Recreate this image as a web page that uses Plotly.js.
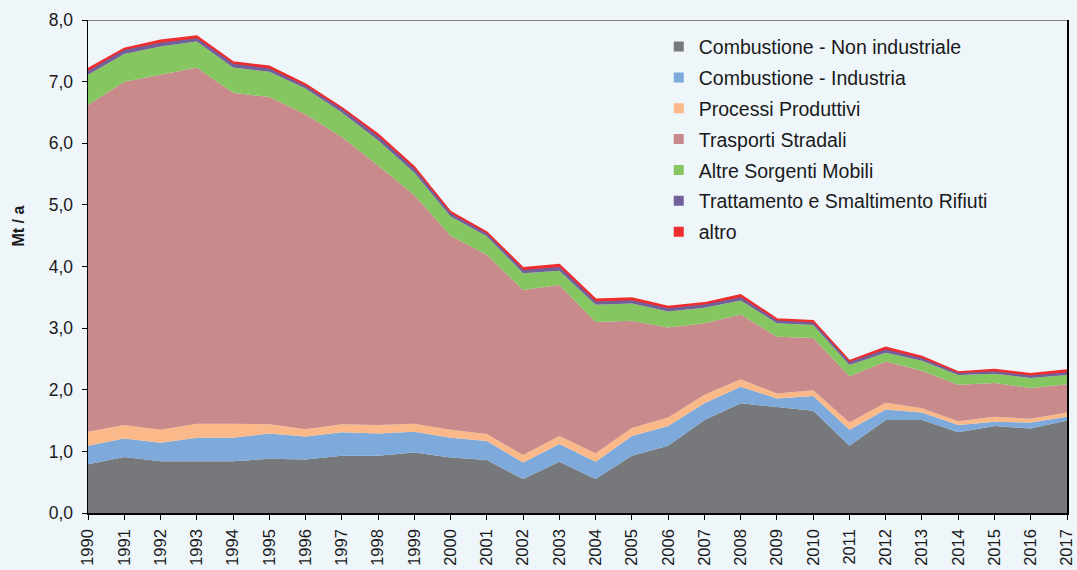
<!DOCTYPE html>
<html>
<head>
<meta charset="utf-8">
<script src="https://cdn.plot.ly/plotly-3.0.1.min.js"></script>
<style>
  html, body { margin: 0; padding: 0; background: #eef6fa; }
  #chart { width: 1077px; height: 570px; }
</style>
</head>
<body>
<div id="chart"></div>
<script>
// Emissioni per macrosettore, Mt / a
const years = [1990, 1991, 1992, 1993, 1994, 1995, 1996, 1997, 1998, 1999,
               2000, 2001, 2002, 2003, 2004, 2005, 2006, 2007, 2008, 2009,
               2010, 2011, 2012, 2013, 2014, 2015, 2016, 2017];

const combNonInd = [0.79, 0.91, 0.84, 0.84, 0.84, 0.88, 0.87, 0.93, 0.93, 0.98,
                    0.90, 0.86, 0.55, 0.83, 0.55, 0.93, 1.09, 1.51, 1.78, 1.72,
                    1.66, 1.09, 1.51, 1.51, 1.31, 1.41, 1.37, 1.50];
const combInd = [0.30, 0.30, 0.30, 0.38, 0.38, 0.41, 0.37, 0.38, 0.36, 0.34,
                 0.32, 0.31, 0.27, 0.29, 0.28, 0.32, 0.32, 0.27, 0.27, 0.14,
                 0.24, 0.26, 0.17, 0.12, 0.12, 0.07, 0.10, 0.06];
const processi = [0.23, 0.22, 0.21, 0.23, 0.23, 0.15, 0.12, 0.13, 0.14, 0.13,
                  0.13, 0.11, 0.12, 0.13, 0.14, 0.13, 0.14, 0.14, 0.12, 0.08,
                  0.09, 0.12, 0.11, 0.07, 0.06, 0.08, 0.06, 0.07];
const trasporti = [5.30, 5.57, 5.76, 5.78, 5.37, 5.31, 5.11, 4.66, 4.21, 3.71,
                   3.15, 2.91, 2.68, 2.45, 2.13, 1.74, 1.46, 1.16, 1.05, 0.92,
                   0.85, 0.75, 0.67, 0.61, 0.59, 0.55, 0.50, 0.46];
const altreMobili = [0.49, 0.45, 0.46, 0.42, 0.41, 0.41, 0.42, 0.40, 0.41, 0.36,
                     0.31, 0.30, 0.27, 0.23, 0.28, 0.28, 0.26, 0.25, 0.23, 0.22,
                     0.21, 0.18, 0.14, 0.16, 0.16, 0.15, 0.16, 0.15];
const rifiuti = [0.05, 0.05, 0.05, 0.04, 0.05, 0.04, 0.03, 0.04, 0.05, 0.05,
                 0.04, 0.03, 0.04, 0.05, 0.04, 0.04, 0.04, 0.04, 0.04, 0.03,
                 0.03, 0.04, 0.04, 0.03, 0.02, 0.03, 0.03, 0.03];
const altro = [0.05, 0.04, 0.05, 0.05, 0.04, 0.05, 0.04, 0.04, 0.05, 0.05,
               0.04, 0.04, 0.05, 0.05, 0.05, 0.05, 0.04, 0.04, 0.05, 0.04,
               0.04, 0.03, 0.05, 0.04, 0.03, 0.04, 0.04, 0.05];

const yTicks = [0, 1, 2, 3, 4, 5, 6, 7, 8];

const series = [
  { name: 'Combustione - Non industriale', y: combNonInd, color: '#76787b' },
  { name: 'Combustione - Industria', y: combInd, color: '#7daadb' },
  { name: 'Processi Produttivi', y: processi, color: '#fbb98a' },
  { name: 'Trasporti Stradali', y: trasporti, color: '#c88a8a' },
  { name: 'Altre Sorgenti Mobili', y: altreMobili, color: '#86c660' },
  { name: 'Trattamento e Smaltimento Rifiuti', y: rifiuti, color: '#72609a' },
  { name: 'altro', y: altro, color: '#ee2d2e' }
];

const traces = [];
series.forEach((s, i) => {
  const edge = i >= 5 ? 1.5 : 0;   // thin top bands drawn with a line too
  traces.push({
    x: years, y: s.y, name: s.name,
    type: 'scatter', mode: 'lines', stackgroup: 'one',
    line: { width: edge, color: s.color }, fillcolor: s.color,
    showlegend: false, hoverinfo: 'x+y+name'
  });
});
// legend entries with small square markers
series.forEach((s, i) => {
  traces.push({
    x: [null], y: [null], name: s.name,
    type: 'scatter', mode: 'markers', legendgroup: 'g' + i,
    marker: { symbol: 'square', size: 10, color: s.color }
  });
});

const layout = {
  width: 1077, height: 570,
  paper_bgcolor: '#eef6fa', plot_bgcolor: '#eef6fa',
  font: { family: 'Arial, sans-serif', color: '#1a1a1a', size: 17 },
  separators: ',.',
  margin: { l: 88, r: 10, t: 20, b: 57 },
  showlegend: true,
  legend: {
    x: 0.583, y: 0.985, xanchor: 'left', yanchor: 'top',
    bgcolor: 'rgba(0,0,0,0)', font: { size: 19.5 },
    tracegroupgap: 2.5, itemwidth: 30
  },
  xaxis: {
    range: [1990, 2017], tickmode: 'array', tickvals: years,
    ticktext: years.map(String), tickangle: -90,
    ticks: 'outside', ticklen: 5, tickcolor: '#000',
    showline: true, linecolor: '#000', linewidth: 1.5,
    showgrid: false, zeroline: false, ticklabelstandoff: 3,
    tickfont: { size: 16.5 }
  },
  yaxis: {
    range: [0, 8], tickmode: 'array', tickvals: yTicks, tickformat: '.1f',
    ticks: 'outside', ticklen: 5, tickcolor: '#000',
    showline: true, linecolor: '#000', linewidth: 1.5, mirror: true,
    showgrid: false, zeroline: false, ticklabelstandoff: 5,
    tickfont: { size: 17.5 }
  },
  annotations: [{
    text: '<b>Mt / a</b>', xref: 'paper', yref: 'paper',
    x: -0.071, y: 0.582, xanchor: 'center', yanchor: 'middle',
    textangle: -90, showarrow: false, font: { size: 16 }
  }],
  shapes: [{
    type: 'line', xref: 'paper', yref: 'y', x0: 0, x1: 1, y0: 8, y1: 8,
    line: { color: '#808080', width: 2 }
  }]
};

Plotly.newPlot('chart', traces, layout, { displayModeBar: false, staticPlot: true });
</script>
</body>
</html>
